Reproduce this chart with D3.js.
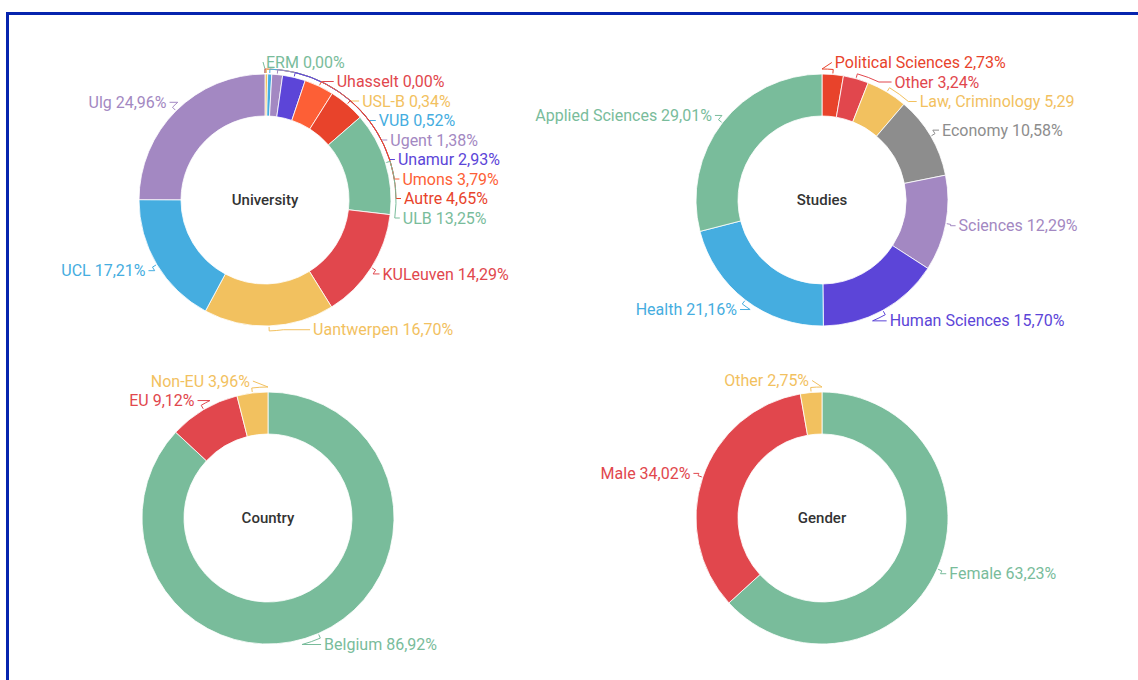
<!DOCTYPE html>
<html>
<head>
<meta charset="utf-8">
<script src="https://cdn.jsdelivr.net/npm/d3@7"></script>
<style>
  body { margin: 0; background: #fff; overflow: hidden; }
  #frame { position: absolute; left: 6px; top: 12px; width: 1200px; height: 720px;
           border-left: 3px solid #0624ae; border-top: 3px solid #0624ae; }
  svg { position: absolute; left: 0; top: 0; }
  text { font-family: Roboto, "Noto Sans", sans-serif; }
</style>
</head>
<body>
<div id="frame"></div>
<div id="canvas"></div>
<script>
// colours used by the charts
const green = "#79bc9b", red = "#e1474d", yellow = "#f2c15f", blue = "#45ade0",
      purple = "#a388c2", violet = "#5c45d8", orange = "#fd5f36", redOrange = "#e8432b",
      gray = "#8d8d8d";

// University
const uniNames  = ["ERM", "Uhasselt", "USL-B", "VUB", "Ugent", "Unamur", "Umons", "Autre", "ULB", "KULeuven", "Uantwerpen", "UCL", "Ulg"];
const uniValues = [0.00, 0.00, 0.34, 0.52, 1.38, 2.93, 3.79, 4.65, 13.25, 14.29, 16.70, 17.21, 24.96];
const uniColors = [green, red, yellow, blue, purple, violet, orange, redOrange, green, red, yellow, blue, purple];

// Studies
const studyNames  = ["Political Sciences", "Other", "Law, Criminology", "Economy", "Sciences", "Human Sciences", "Health", "Applied Sciences"];
const studyValues = [2.73, 3.24, 5.29, 10.58, 12.29, 15.70, 21.16, 29.01];
const studyLabels = ["2,73%", "3,24%", "5,29", "10,58%", "12,29%", "15,70%", "21,16%", "29,01%"];
const studyColors = [redOrange, red, yellow, gray, purple, violet, blue, green];

// Country
const countryNames  = ["Belgium", "EU", "Non-EU"];
const countryValues = [86.92, 9.12, 3.96];
const countryColors = [green, red, yellow];

// Gender
const genderNames  = ["Female", "Male", "Other"];
const genderValues = [63.23, 34.02, 2.75];
const genderColors = [green, red, yellow];

const fmt = v => v.toFixed(2).replace(".", ",") + "%";

const svgWidth = 1138, svgHeight = 680;
const outerR = 126, innerR = 84, labelR = 138, gap = 19.5;

const svg = d3.select("#canvas").append("svg")
    .attr("width", svgWidth)
    .attr("height", svgHeight);

function donut(cx, cy, title, names, values, colors, labels) {
    const g = svg.append("g").attr("transform", `translate(${cx},${cy})`);
    const pie = d3.pie().sort(null).value(d => d.value);
    const data = names.map((n, i) => ({
        name: n, value: values[i], color: colors[i],
        label: n + " " + (labels ? labels[i] : fmt(values[i]))
    }));
    const arcs = pie(data);
    const arc = d3.arc().innerRadius(innerR).outerRadius(outerR);

    g.selectAll("path.slice")
        .data(arcs)
        .enter()
        .append("path")
        .attr("class", "slice")
        .attr("d", arc)
        .attr("fill", d => d.data.color)
        .attr("stroke", "#fff")
        .attr("stroke-width", 0.8);

    // label layout: natural position on a circle, then push down to avoid overlap
    const pt = (a, r) => [r * Math.sin(a), -r * Math.cos(a)];
    arcs.forEach(d => {
        d.mid = (d.startAngle + d.endAngle) / 2;
        d.right = d.mid < Math.PI;
        d.ly = -labelR * Math.cos(d.mid);
    });
    [true, false].forEach(side => {
        const list = arcs.filter(d => d.right === side).sort((a, b) => a.ly - b.ly);
        for (let i = 1; i < list.length; i++) {
            if (list[i].ly < list[i - 1].ly + gap) list[i].ly = list[i - 1].ly + gap;
        }
    });
    arcs.forEach(d => {
        // keep bottom labels clear of the ring
        d.ly = Math.min(d.ly, labelR * 0.94);
        const dy = Math.max(-labelR, d.ly);
        const dx = Math.sqrt(labelR * labelR - dy * dy);
        d.lx = d.right ? dx + 1 : -dx - 1;
    });

    const ra = outerR + 5;
    g.selectAll("path.leader")
        .data(arcs)
        .enter()
        .append("path")
        .attr("class", "leader")
        .attr("fill", "none")
        .attr("stroke", d => d.data.color)
        .attr("stroke-width", 1)
        .attr("d", d => {
            const c = Math.max(-1, Math.min(1, -d.ly / ra));
            const th = d.right ? Math.acos(c) : 2 * Math.PI - Math.acos(c);
            const p0 = pt(d.mid, outerR + 1), p1 = pt(d.mid, ra), p2 = pt(th, ra);
            const sweep = th > d.mid ? 1 : 0;
            const ex = d.lx + (d.right ? -3 : 3);
            return `M${p0}L${p1}A${ra},${ra} 0 0 ${sweep} ${p2}L${ex},${d.ly}`;
        });

    g.selectAll("text.lbl")
        .data(arcs)
        .enter()
        .append("text")
        .attr("class", "lbl")
        .attr("x", d => d.lx)
        .attr("y", d => d.ly)
        .attr("dy", "0.35em")
        .attr("text-anchor", d => d.right ? "start" : "end")
        .attr("fill", d => d.data.color)
        .style("font-size", "16px")
        .style("font-weight", 400)
        .text(d => d.data.label);

    g.append("text")
        .attr("text-anchor", "middle")
        .attr("dy", "0.35em")
        .attr("fill", "#333")
        .style("font-size", "15px")
        .style("font-weight", 500)
        .text(title);
}

donut(265, 200, "University", uniNames, uniValues, uniColors);
donut(822, 200, "Studies", studyNames, studyValues, studyColors, studyLabels);
donut(268, 518, "Country", countryNames, countryValues, countryColors);
donut(822, 518, "Gender", genderNames, genderValues, genderColors);
</script>
</body>
</html>
